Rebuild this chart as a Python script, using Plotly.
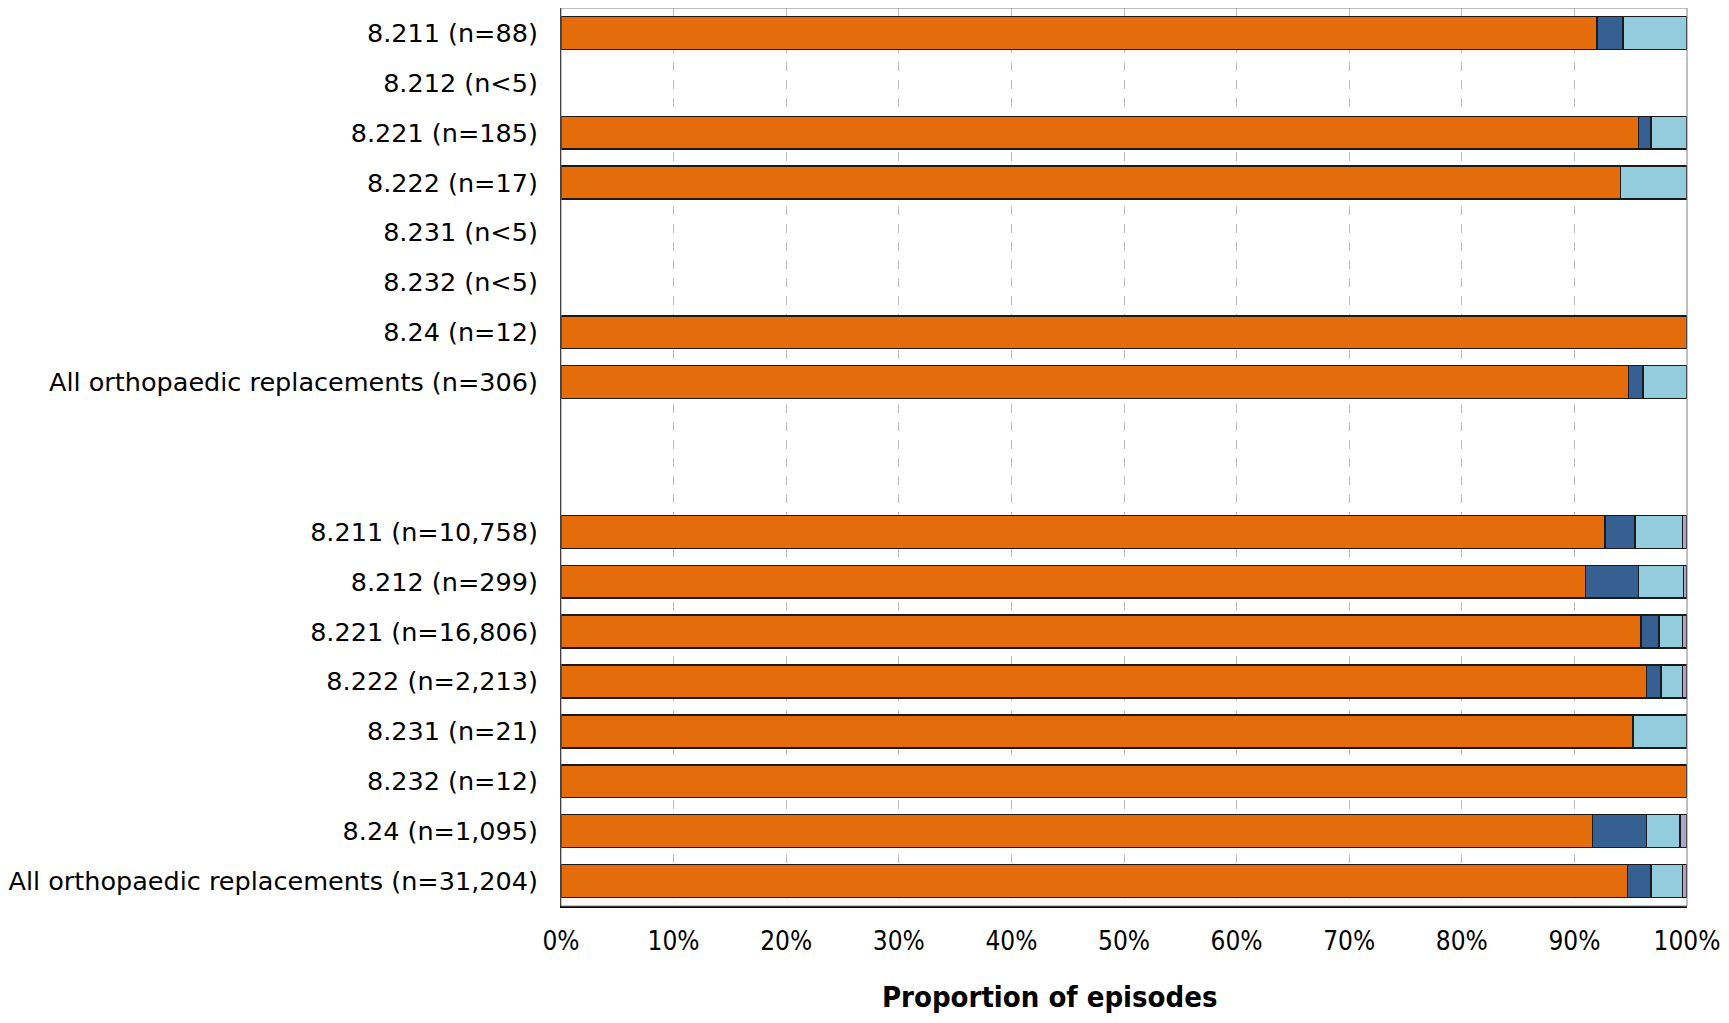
import plotly.graph_objects as go

labels = ["8.211 (n=88)", "8.212 (n<5)", "8.221 (n=185)", "8.222 (n=17)",
          "8.231 (n<5)", "8.232 (n<5)", "8.24 (n=12)",
          "All orthopaedic replacements (n=306)", "", "",
          "8.211 (n=10,758)", "8.212 (n=299)", "8.221 (n=16,806)",
          "8.222 (n=2,213)", "8.231 (n=21)", "8.232 (n=12)", "8.24 (n=1,095)",
          "All orthopaedic replacements (n=31,204)"]

orange = [92.0, None, 95.7, 94.1, None, None, 100, 94.8, None, None,
          92.7, 91.0, 95.9, 96.4, 95.2, 100, 91.6, 94.7]
dark_blue = [2.3, None, 1.1, None, None, None, None, 1.3, None, None,
             2.7, 4.7, 1.6, 1.3, None, None, 4.8, 2.1]
light_blue = [5.7, None, 3.2, 5.9, None, None, None, 3.9, None, None,
              4.2, 4.0, 2.1, 1.9, 4.8, None, 3.0, 2.8]
purple = [None, None, None, None, None, None, None, None, None, None,
          0.4, 0.3, 0.4, 0.4, None, None, 0.6, 0.4]

x_ticks = [0, 10, 20, 30, 40, 50, 60, 70, 80, 90, 100]
x_tick_labels = ["0%", "10%", "20%", "30%", "40%", "50%", "60%", "70%", "80%", "90%", "100%"]

series = [(orange, "#E46C0A"), (dark_blue, "#366092"),
          (light_blue, "#93CDDD"), (purple, "#B3A2C7")]

rows = list(range(len(labels)))

fig = go.Figure()
for vals, col in series:
    fig.add_trace(go.Bar(
        x=vals, y=rows, orientation="h",
        marker=dict(color=col, line=dict(color="#1a1a1a", width=1.5)),
        showlegend=False, hoverinfo="x+y"))

fig.update_layout(
    barmode="stack", bargap=0.34,
    width=1713, height=1007,
    margin=dict(l=553, r=34, t=0, b=109),
    paper_bgcolor="white", plot_bgcolor="white",
    font=dict(family="DejaVu Sans", color="black"),
)
fig.update_yaxes(
    tickvals=rows, ticktext=labels, range=[len(labels) - 0.5, -0.5],
    tickfont=dict(family="DejaVu Sans", size=25.5, color="black"),
    ticks="outside", ticklen=0, ticklabelstandoff=17,
    showgrid=False, showline=True, linecolor="black", linewidth=1,
    zeroline=False)
fig.update_xaxes(
    range=[0, 100], tickvals=x_ticks, ticktext=x_tick_labels,
    tickfont=dict(family="DejaVu Sans Condensed", size=26, color="black"),
    ticks="outside", ticklen=0, ticklabelstandoff=11,
    showgrid=True, gridcolor="#BDBDBD", griddash="dash", gridwidth=1,
    showline=True, linecolor="black", linewidth=2, zeroline=False)

fig.add_shape(type="rect", xref="paper", yref="paper", x0=0, x1=1, y0=0, y1=1,
              line=dict(color="#808080", width=1), layer="above")

fig.add_annotation(text="<b>Proportion of episodes</b>", xref="paper", yref="paper",
                   x=0.4335, y=0, yshift=-91, showarrow=False,
                   xanchor="center", yanchor="middle",
                   font=dict(family="DejaVu Sans Condensed", size=29, color="black"))

fig.write_html("out.html")
